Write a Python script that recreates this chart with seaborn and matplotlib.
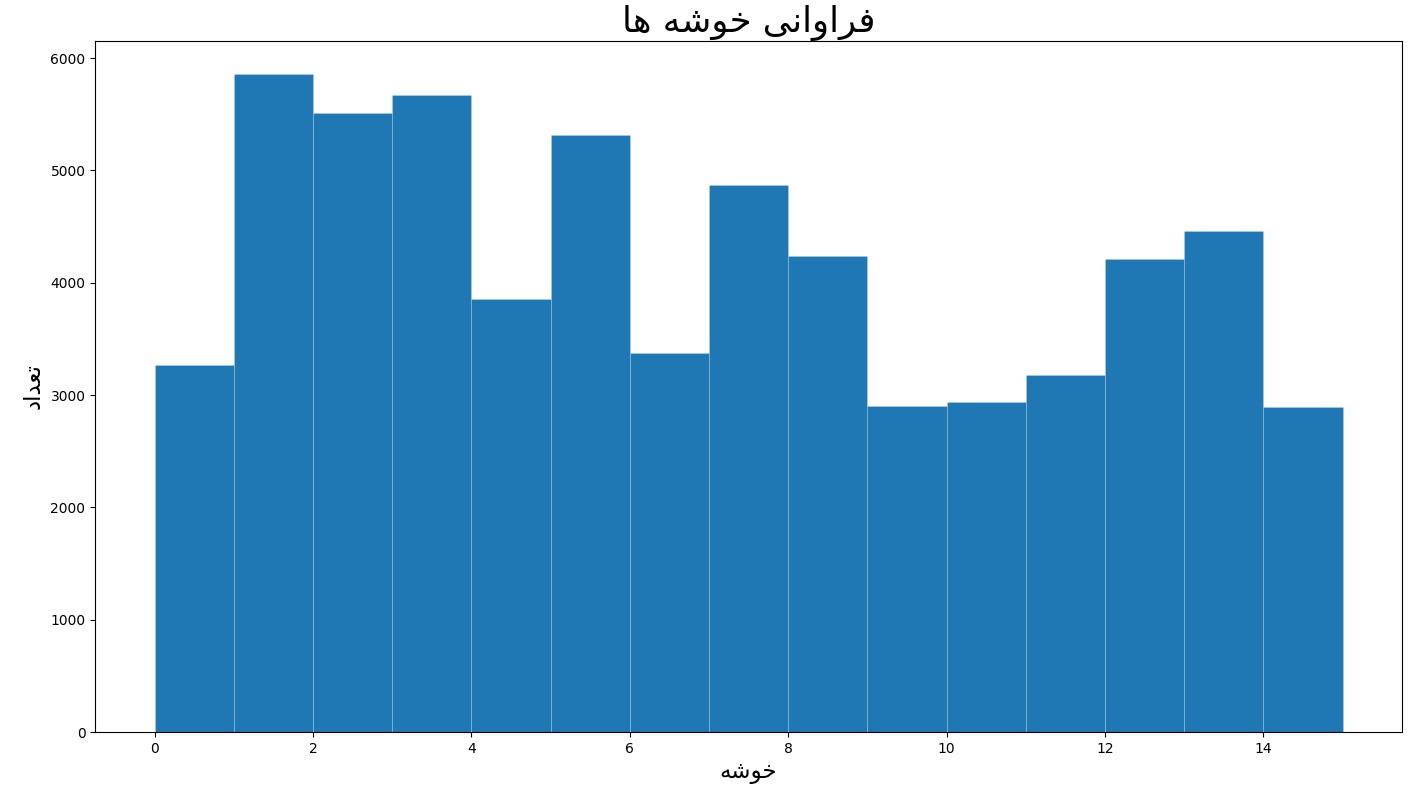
import pandas as pd
import seaborn as sns
import matplotlib.pyplot as plt

# تعداد نمونه در هر خوشه (خوانده شده از نمودار)
clusters = list(range(15))
counts = [3267, 5858, 5511, 5671, 3855, 5315, 3374, 4870, 4238, 2902, 2938, 3178, 4211, 4460, 2893]

# متن فارسی به صورت شکل‌های نمایشی و ترتیب دیداری
TITLE = "\uFE8E\uFEEB \uFEEA\uFEB7\uFEEE\uFEA7 \uFBFD\uFEE7\uFE8D\uFEED\uFE8D\uFEAE\uFED3"
XLABEL = "\uFEEA\uFEB7\uFEEE\uFEA7"
YLABEL = "\uFEA9\uFE8D\uFEAA\uFECC\uFE97"

df = pd.DataFrame({'cluster': clusters, 'count': counts})

fig, ax = plt.subplots(figsize=(14.21, 7.9), dpi=100)
fig.subplots_adjust(left=0.067, right=0.9866, top=0.948, bottom=0.0734)

sns.histplot(data=df, x='cluster', weights='count', bins=15, binrange=(0, 15),
             color='#1f77b4', alpha=1, edgecolor=(1, 1, 1, 0.2), linewidth=0.6, ax=ax)

ax.set_title(TITLE, fontsize=25.5, pad=3)
ax.set_xlabel(XLABEL, fontsize=16.5)
ax.set_ylabel(YLABEL, fontsize=16.5)

plt.savefig('out.png', dpi=100)
